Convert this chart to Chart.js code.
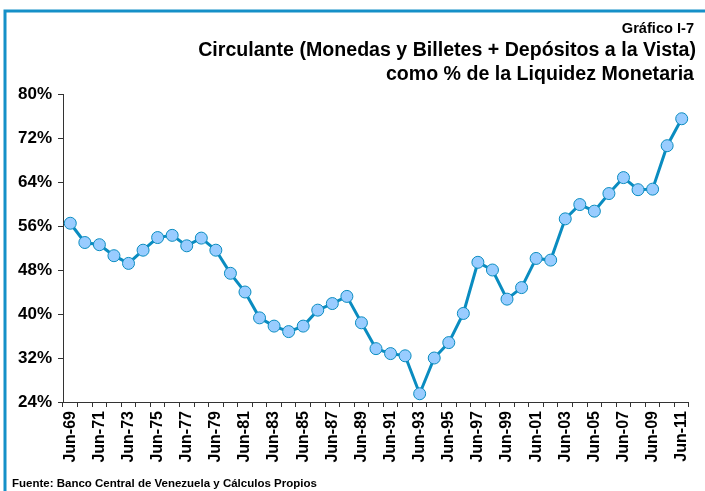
<!DOCTYPE html>
<html>
<head>
<meta charset="utf-8">
<script src="https://cdn.jsdelivr.net/npm/chart.js@4"></script>
<style>
  html, body { margin: 0; padding: 0; background: #fff; }
  canvas { display: block; }
</style>
</head>
<body>
<canvas id="grafico" width="705" height="491"></canvas>
<script>
// años (junio de cada año) y circulante como % de la liquidez monetaria
const anios = [
  '69','70','71','72','73','74','75','76','77','78','79','80','81','82','83',
  '84','85','86','87','88','89','90','91','92','93','94','95','96','97','98',
  '99','00','01','02','03','04','05','06','07','08','09','10','11'
];
const etiquetas = anios.map(a => 'Jun-' + a);
const circulante = [
  56.5, 53.0, 52.6, 50.6, 49.2, 51.6, 53.9, 54.3, 52.4, 53.8, 51.6, 47.4, 44.0, 39.3, 37.8,
  36.8, 37.8, 40.7, 41.9, 43.2, 38.4, 33.7, 32.8, 32.4, 25.5, 32.0, 34.8, 40.1, 49.4, 48.0,
  42.7, 44.8, 50.1, 49.8, 57.3, 59.9, 58.7, 61.9, 64.8, 62.6, 62.7, 70.6, 75.5
];
const yMin = 24, yMax = 80, yPaso = 8;

const FUENTE = '"Liberation Sans", Arial, sans-serif';
const azul = '#0a8cc0';

// marco azul y textos (título y fuente)
const marcoYTextos = {
  id: 'marcoYTextos',
  afterDraw(chart) {
    const ctx = chart.ctx;
    ctx.save();
    ctx.strokeStyle = '#1590c8';
    ctx.lineWidth = 3;
    ctx.beginPath();
    ctx.moveTo(5, 491);
    ctx.lineTo(5, 11);
    ctx.lineTo(705, 11);
    ctx.stroke();

    ctx.fillStyle = '#000';
    ctx.textAlign = 'right';
    ctx.textBaseline = 'alphabetic';
    ctx.font = 'bold 14.6px ' + FUENTE;
    ctx.fillText('Gráfico I-7', 694, 33);
    ctx.font = 'bold 19.6px ' + FUENTE;
    ctx.fillText('Circulante (Monedas y Billetes + Depósitos a la Vista)', 696, 56);
    ctx.fillText('como % de la Liquidez Monetaria', 694, 80);

    ctx.textAlign = 'left';
    ctx.font = 'bold 11.5px ' + FUENTE;
    ctx.fillText('Fuente: Banco Central de Venezuela y Cálculos Propios', 12, 487);
    ctx.restore();
  }
};

new Chart(document.getElementById('grafico'), {
  type: 'line',
  data: {
    labels: etiquetas,
    datasets: [{
      data: circulante,
      borderColor: azul,
      borderWidth: 3,
      tension: 0,
      pointRadius: 6,
      pointBackgroundColor: '#99ccff',
      pointBorderColor: azul,
      pointBorderWidth: 1
    }]
  },
  options: {
    responsive: false,
    animation: false,
    layout: { padding: { top: 94, right: 8, left: 0, bottom: 0 } },
    plugins: { legend: { display: false }, tooltip: { enabled: false } },
    scales: {
      x: {
        offset: true,
        grid: { offset: true, drawOnChartArea: false, tickLength: 5, color: '#333' },
        border: { color: '#333', width: 1 },
        ticks: {
          autoSkip: false,
          minRotation: 90,
          maxRotation: 90,
          padding: 4,
          color: '#000',
          font: { family: FUENTE, size: 16, weight: 'bold' },
          callback: function (v, i) { return i % 2 === 0 ? this.getLabelForValue(v) : ''; }
        },
        afterFit: s => { s.height = 89; }
      },
      y: {
        min: yMin,
        max: yMax,
        grid: { drawOnChartArea: false, tickLength: 5, color: '#333' },
        border: { color: '#333', width: 1 },
        ticks: {
          stepSize: yPaso,
          padding: 6,
          color: '#000',
          font: { family: FUENTE, size: 17, weight: 'bold' },
          callback: v => v + '%'
        },
        afterFit: s => { s.width = 63; }
      }
    }
  },
  plugins: [marcoYTextos]
});
</script>
</body>
</html>
